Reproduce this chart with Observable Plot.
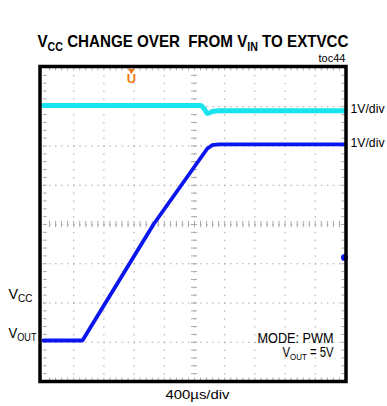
<!DOCTYPE html>
<html><head><meta charset="utf-8">
<script src="https://cdn.jsdelivr.net/npm/d3@7"></script>
<script src="https://cdn.jsdelivr.net/npm/@observablehq/plot@0.6"></script>
<style>html,body{margin:0;padding:0;background:#fff;} svg{display:block;}</style>
</head><body><div id="chart"></div>
<script>
// Oscilloscope capture: time in divisions (400µs/div), voltage in divisions (1V/div)
const vccTime  = [0, 5.2, 5.32, 5.43, 5.6, 5.8, 10];
const vccDiv   = [3.03, 3.03, 2.95, 2.83, 2.88, 2.9, 2.9];
const voutTime = [0, 1.29, 3.64, 5.42, 5.58, 5.8, 10];
const voutDiv  = [-2.955, -2.955, 0, 1.93, 2.02, 2.04, 2.04];
const gridX = [1, 2, 3, 4, 5, 6, 7, 8, 9];
const gridY = [-3, -2, -1, 0, 1, 2, 3];
const triggerTime = [2.91];
const refMarkerY = [-0.84];

const titleText = "V[CC] CHANGE OVER  FROM V[IN] TO EXTVCC";
const tocText = "toc44";
const scaleLabels = ["1V/div", "1V/div"];
const chanLabels = ["V[CC]", "V[OUT]"];
const modeText = "MODE: PWM";
const voutText = "V[OUT] = 5V";
const timeText = "400µs/div";

const minorX = d3.range(1, 50).map(i => i / 5);
const minorY = d3.range(1, 40).map(i => i / 5 - 4);

const vcc = vccTime.map((t, i) => ({t, v: vccDiv[i]}));
const vout = voutTime.map((t, i) => ({t, v: voutDiv[i]}));

const gridColor = "#a8a8a8";
const cyan = "#18e4ef";
const blue = "#0b16ee";
const mid = {lineAnchor: "middle"};

const chart = Plot.plot({
  width: 387, height: 406,
  marginLeft: 43, marginRight: 42, marginTop: 67, marginBottom: 25,
  x: {domain: [0, 10], axis: null},
  y: {domain: [-4, 4], axis: null},
  style: {fontFamily: "'Liberation Sans', Arial, sans-serif", background: "#fff", color: "#000"},
  marks: [
    Plot.ruleX(gridX, {stroke: gridColor, strokeDasharray: "1.5,6.35"}),
    Plot.ruleY(gridY, {stroke: gridColor, strokeDasharray: "1.5,4.54"}),
    Plot.ruleX(minorX, {x: d => d, y1: -0.08, y2: 0.08, stroke: gridColor}),
    Plot.ruleY(minorY, {y: d => d, x1: 4.9, x2: 5.1, stroke: gridColor}),
    Plot.ruleX(minorX, {x: d => d, y1: 4, y2: 3.91, stroke: gridColor}),
    Plot.ruleX(minorX, {x: d => d, y1: -4, y2: -3.91, stroke: gridColor}),
    Plot.ruleY(minorY, {y: d => d, x1: 0, x2: 0.12, stroke: gridColor}),
    Plot.ruleY(minorY, {y: d => d, x1: 10, x2: 9.88, stroke: gridColor}),
    Plot.line(vcc, {x: "t", y: "v", stroke: cyan, strokeWidth: 5, curve: "monotone-x"}),
    Plot.line(vout, {x: "t", y: "v", stroke: blue, strokeWidth: 3.8, curve: "linear", strokeLinejoin: "round"}),
    Plot.dot(refMarkerY, {x: 10, y: d => d, r: 3.5, fill: blue, dx: -1}),
    Plot.dot(triggerTime, {x: d => d, y: 4, symbol: "triangle", rotate: 180, r: 2.4, fill: "#f07a16", dy: 3}),
    Plot.text(triggerTime, {x: d => d, y: 4, text: () => "U", fill: "#f07a16", fontWeight: "bold", fontSize: 13, dy: 11.5, ...mid}),
    Plot.frame({stroke: "#000", strokeWidth: 3.5, insetLeft: -3.5, insetRight: -0.5, insetTop: -1, insetBottom: 0}),
    Plot.text([titleText], {text: d => d, frameAnchor: "top", dx: -1.5, dy: -25.5, fontSize: 17, fontWeight: "bold", ...mid}),
    Plot.text([tocText], {text: d => d, frameAnchor: "top-right", textAnchor: "end", dx: 0, dy: -8.5, fontSize: 10.5, ...mid}),
    Plot.text([0, 1], {text: i => scaleLabels[i], x: 10, y: i => [vccDiv, voutDiv][i].at(-1), textAnchor: "start", dx: 5, dy: -2, fontSize: 13.5, ...mid}),
    Plot.text([chanLabels[0]], {text: d => d, frameAnchor: "top-left", textAnchor: "start", dx: -35, dy: 226.5, fontSize: 15.5, ...mid}),
    Plot.text([chanLabels[1]], {text: d => d, frameAnchor: "top-left", textAnchor: "start", dx: -35, dy: 265.5, fontSize: 15.5, ...mid}),
    Plot.text([modeText], {text: d => d, frameAnchor: "bottom-right", textAnchor: "end", dx: -12, dy: -43, fontSize: 14, ...mid}),
    Plot.text([voutText], {text: d => d, frameAnchor: "bottom-right", textAnchor: "end", dx: -12, dy: -29, fontSize: 14, ...mid}),
    Plot.text([timeText], {text: d => d, frameAnchor: "bottom", dx: 3, dy: 13.5, fontSize: 13.5, ...mid})
  ]
});

// fitted text widths (px), as measured in the capture
const fitWidth = new Map([
  [titleText, 311], [tocText, 27], ["1V/div", 34], [chanLabels[0], 24], [chanLabels[1], 28],
  [modeText, 76], [voutText, 51], [timeText, 64]
]);

const ns = "http://www.w3.org/2000/svg";
d3.select(chart).selectAll("text").each(function () {
  const raw = this.textContent;
  const w = fitWidth.get(raw);
  if (raw.includes("[")) {
    const fs = parseFloat(this.closest("[font-size]")?.getAttribute("font-size") || this.getAttribute("font-size") || 14);
    const sub = (fs * 0.7).toFixed(1);
    const shift = (fs * 0.22).toFixed(1);
    const parts = raw.split(/(\[[^\]]*\])/).filter(p => p);
    this.textContent = "";
    let down = false;
    for (const p of parts) {
      const ts = document.createElementNS(ns, "tspan");
      if (p.startsWith("[")) {
        ts.textContent = p.slice(1, -1);
        ts.setAttribute("font-size", sub);
        ts.setAttribute("dy", shift);
        down = true;
      } else {
        ts.textContent = p;
        if (down) { ts.setAttribute("dy", -shift); down = false; }
      }
      this.appendChild(ts);
    }
  }
  this.style.whiteSpace = "pre";
  if (w) {
    this.setAttribute("textLength", w);
    this.setAttribute("lengthAdjust", "spacingAndGlyphs");
  }
});

document.getElementById("chart").appendChild(chart);
</script>
</body></html>
